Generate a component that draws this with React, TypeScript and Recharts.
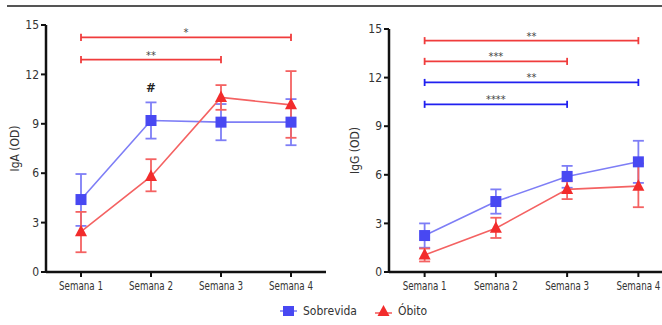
import {
  ErrorBar,
  Label,
  Line,
  LineChart,
  ReferenceDot,
  ReferenceLine,
  XAxis,
  YAxis,
} from "recharts";

const semanas = ["Semana 1", "Semana 2", "Semana 3", "Semana 4"];
const yTicks = [0, 3, 6, 9, 12, 15];

// IgA (OD) - media e limites da barra de erro
const igaSobrevida = [4.4, 9.2, 9.1, 9.1];
const igaSobrevidaLo = [2.8, 8.1, 8.0, 7.7];
const igaSobrevidaHi = [5.95, 10.3, 10.2, 10.5];
const igaObito = [2.45, 5.8, 10.6, 10.15];
const igaObitoLo = [1.2, 4.9, 9.85, 8.15];
const igaObitoHi = [3.65, 6.85, 11.35, 12.2];

// IgG (OD)
const iggSobrevida = [2.25, 4.35, 5.9, 6.8];
const iggSobrevidaLo = [1.5, 3.6, 5.2, 5.5];
const iggSobrevidaHi = [3.0, 5.1, 6.55, 8.1];
const iggObito = [1.05, 2.7, 5.1, 5.3];
const iggObitoLo = [0.65, 2.1, 4.5, 4.0];
const iggObitoHi = [1.45, 3.35, 5.6, 6.7];

// barras de significancia: grupo, de, ate, altura, texto
const igaSig = [
  { grupo: "obito", de: "Semana 1", ate: "Semana 4", y: 14.25, texto: "*" },
  { grupo: "obito", de: "Semana 1", ate: "Semana 3", y: 12.9, texto: "**" },
];
const iggSig = [
  { grupo: "obito", de: "Semana 1", ate: "Semana 4", y: 14.28, texto: "**" },
  { grupo: "obito", de: "Semana 1", ate: "Semana 3", y: 13.0, texto: "***" },
  { grupo: "sobrevida", de: "Semana 1", ate: "Semana 4", y: 11.7, texto: "**" },
  { grupo: "sobrevida", de: "Semana 1", ate: "Semana 3", y: 10.35, texto: "****" },
];

const FONT = "'Liberation Sans Narrow', 'DejaVu Sans Condensed', 'DejaVu Sans', sans-serif";
const BLUE = "#4848f2";
const BLUE_LINE = "#7e7ef6";
const RED = "#f22c2c";
const RED_LINE = "#f46262";
const SIG_COLORS: Record<string, string> = { obito: "#f03c3c", sobrevida: "#2020f0" };

function buildRows(
  sob: number[], sobLo: number[], sobHi: number[],
  ob: number[], obLo: number[], obHi: number[],
) {
  return semanas.map((semana, i) => ({
    semana,
    sobrevida: sob[i],
    sobErr: [sob[i] - sobLo[i], sobHi[i] - sob[i]],
    obito: ob[i],
    obErr: [ob[i] - obLo[i], obHi[i] - ob[i]],
  }));
}

const igaRows = buildRows(igaSobrevida, igaSobrevidaLo, igaSobrevidaHi, igaObito, igaObitoLo, igaObitoHi);
const iggRows = buildRows(iggSobrevida, iggSobrevidaLo, iggSobrevidaHi, iggObito, iggObitoLo, iggObitoHi);

const textStyle = { fontFamily: FONT, fontStretch: "condensed" as const };

function SquareDot(props: any) {
  const { cx, cy } = props;
  if (cx == null || cy == null) return null;
  return <rect x={cx - 5.5} y={cy - 5.5} width={11} height={11} fill={BLUE} />;
}

function TriangleDot(props: any) {
  const { cx, cy } = props;
  if (cx == null || cy == null) return null;
  return (
    <polygon
      points={`${cx},${cy - 7} ${cx + 6},${cy + 4.5} ${cx - 6},${cy + 4.5}`}
      fill={RED}
    />
  );
}

// rotulo do eixo x um pouco comprimido, como a fonte estreita do original
function WeekTick(props: any) {
  const { x, y, payload } = props;
  return (
    <text
      x={x}
      y={y}
      dy="0.71em"
      textAnchor="middle"
      fill="#333"
      fontSize={12.5}
      textLength={44}
      lengthAdjust="spacingAndGlyphs"
      style={textStyle}
    >
      {payload.value}
    </text>
  );
}

interface PanelProps {
  rows: ReturnType<typeof buildRows>;
  yLabel: string;
  width: number;
  margin: { top: number; right: number; bottom: number; left: number };
  labelOffset: number;
  sig: typeof igaSig;
  hash?: { x: string; y: number };
}

function Panel({ rows, yLabel, width, margin, labelOffset, sig, hash }: PanelProps) {
  const tick = { fill: "#333", fontSize: 12, style: textStyle };
  return (
    <LineChart width={width} height={300} data={rows} margin={margin}>
      <XAxis
        dataKey="semana"
        scale="band"
        height={28}
        axisLine={{ stroke: "#111", strokeWidth: 2.5 }}
        tickLine={{ stroke: "#111", strokeWidth: 2 }}
        tickSize={5}
        tickMargin={4}
        tick={<WeekTick />}
        interval={0}
      />
      <YAxis
        width={40}
        domain={[0, 15]}
        ticks={yTicks}
        axisLine={{ stroke: "#111", strokeWidth: 2.5 }}
        tickLine={{ stroke: "#111", strokeWidth: 2 }}
        tickSize={5}
        tickMargin={2}
        tick={tick}
      >
        <Label
          value={yLabel}
          angle={-90}
          position="insideLeft"
          offset={labelOffset}
          style={{ ...textStyle, textAnchor: "middle", fill: "#333", fontSize: 12 }}
        />
      </YAxis>
      {sig.map((s, i) => {
        const c = SIG_COLORS[s.grupo];
        return [
          <ReferenceLine
            key={`h${i}`}
            segment={[{ x: s.de, y: s.y }, { x: s.ate, y: s.y }]}
            stroke={c}
            strokeWidth={1.8}
            label={{ value: s.texto, position: "top", offset: 1, fill: "#444", fontSize: 11, style: textStyle }}
          />,
          <ReferenceLine
            key={`a${i}`}
            segment={[{ x: s.de, y: s.y - 0.22 }, { x: s.de, y: s.y + 0.22 }]}
            stroke={c}
            strokeWidth={1.8}
          />,
          <ReferenceLine
            key={`b${i}`}
            segment={[{ x: s.ate, y: s.y - 0.22 }, { x: s.ate, y: s.y + 0.22 }]}
            stroke={c}
            strokeWidth={1.8}
          />,
        ];
      })}
      {hash && (
        <ReferenceDot
          x={hash.x}
          y={hash.y}
          r={1}
          fill="none"
          stroke="none"
          label={{ value: "#", position: "center", fill: "#222", fontSize: 13, fontWeight: "bold", style: textStyle }}
        />
      )}
      <Line
        dataKey="sobrevida"
        stroke={BLUE_LINE}
        strokeWidth={1.6}
        dot={<SquareDot />}
        activeDot={false}
        isAnimationActive={false}
      >
        <ErrorBar dataKey="sobErr" direction="y" width={5.5} stroke={BLUE_LINE} strokeWidth={1.8} />
      </Line>
      <Line
        dataKey="obito"
        stroke={RED_LINE}
        strokeWidth={1.6}
        dot={<TriangleDot />}
        activeDot={false}
        isAnimationActive={false}
      >
        <ErrorBar dataKey="obErr" direction="y" width={5.5} stroke={RED_LINE} strokeWidth={1.8} />
      </Line>
    </LineChart>
  );
}

export default function App() {
  return (
    <div
      style={{
        position: "relative",
        width: 662,
        height: 325,
        overflow: "hidden",
        background: "#fff",
        ...textStyle,
      }}
    >
      <style>{`body{margin:0}`}</style>
      <div style={{ position: "absolute", left: 7, right: 0, top: 5, height: 2, background: "#555" }} />
      <div style={{ position: "absolute", left: 0, top: 0 }}>
        <Panel
          rows={igaRows}
          yLabel="IgA (OD)"
          width={330}
          margin={{ top: 25, right: 4, bottom: 0, left: 6 }}
          labelOffset={9}
          sig={igaSig}
          hash={{ x: "Semana 2", y: 11.23 }}
        />
      </div>
      <div style={{ position: "absolute", left: 330, top: 0 }}>
        <Panel
          rows={iggRows}
          yLabel="IgG (OD)"
          width={348}
          margin={{ top: 29, right: 4, bottom: 0, left: 19 }}
          labelOffset={6}
          sig={iggSig}
        />
      </div>
      <div
        style={{
          position: "absolute",
          top: 304,
          left: 280,
          display: "flex",
          alignItems: "center",
          fontSize: 12,
          color: "#333",
        }}
      >
        <svg width={17} height={12}>
          <line x1={0} y1={6} x2={17} y2={6} stroke={BLUE_LINE} strokeWidth={1.6} />
          <rect x={3} y={1} width={11} height={10} fill={BLUE} />
        </svg>
        <span style={{ marginLeft: 6 }}>Sobrevida</span>
        <svg width={17} height={12} style={{ marginLeft: 18 }}>
          <line x1={0} y1={8} x2={17} y2={8} stroke={RED_LINE} strokeWidth={1.6} />
          <polygon points="8.5,0 14.5,11 2.5,11" fill={RED} />
        </svg>
        <span style={{ marginLeft: 6 }}>Óbito</span>
      </div>
    </div>
  );
}
